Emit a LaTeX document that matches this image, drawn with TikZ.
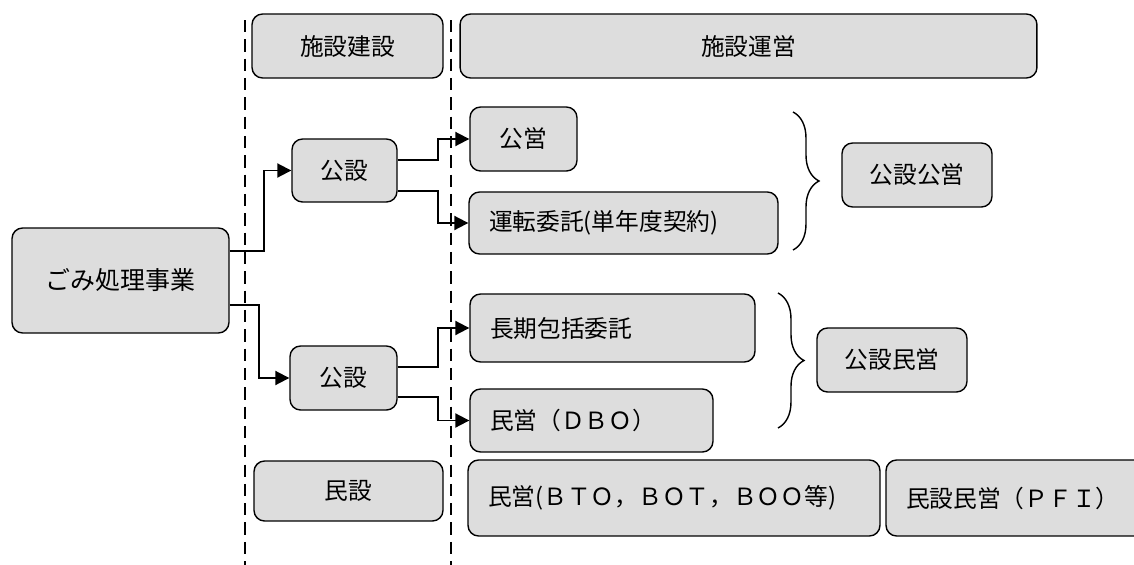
\documentclass[tikz,border=0pt]{standalone}
\usepackage{fontspec}
\setmainfont{Noto Sans CJK JP}
\usetikzlibrary{arrows.meta,decorations.pathreplacing}
\pgfdeclarelayer{nodelayer}
\pgfdeclarelayer{edgelayer}
\pgfsetlayers{edgelayer,nodelayer,main}
\definecolor{boxgrey}{RGB}{221,221,221}
\tikzstyle{grey box}=[fill=boxgrey, draw=black, line width=0.8pt, rounded corners=6pt, shape=rectangle, inner sep=0pt, font=\fontsize{13.5pt}{16pt}\selectfont]
\tikzstyle{grey box left}=[grey box, align=left, inner xsep=0.4cm]
\tikzstyle{none}=[fill=none, draw=none, shape=circle, scale=0]
\tikzstyle{arrow edge}=[draw=black, line width=1.1pt, -{Triangle[length=8pt,width=8pt]}]
\tikzstyle{dashed edge}=[draw=black, line width=0.9pt, dash pattern=on 7pt off 4pt]
\tikzstyle{brace edge}=[draw=black, line width=0.8pt, decorate, decoration={brace, amplitude=0.52cm}]

\begin{document}
\begin{tikzpicture}[x=0.02cm, y=-0.02cm]
	\useasboundingbox (0, 0) rectangle (1134, 565);
	\begin{pgfonlayer}{nodelayer}
		\node [style=grey box, minimum width=4.34cm, minimum height=2.1cm, font=\fontsize{14.2pt}{17pt}\selectfont] (0) at (120.5, 280.5) {ごみ処理事業};
		\node [style=grey box, minimum width=3.82cm, minimum height=1.28cm] (1) at (347.5, 46) {施設建設};
		\node [style=grey box, minimum width=11.54cm, minimum height=1.28cm] (2) at (748.5, 46) {施設運営};
		\node [style=grey box, minimum width=2.1cm, minimum height=1.26cm] (3) at (344.5, 170.5) {公設};
		\node [style=grey box, minimum width=2.14cm, minimum height=1.28cm] (4) at (343.5, 378) {公設};
		\node [style=grey box, minimum width=3.78cm, minimum height=1.2cm] (5) at (348.5, 491) {民設};
		\node [style=grey box, minimum width=2.14cm, minimum height=1.28cm] (6) at (523.5, 139) {公営};
		\node [style=grey box left, text width=5.38cm, minimum height=1.24cm] (7) at (623.5, 223) {運転委託(単年度契約)};
		\node [style=grey box left, text width=4.9cm, minimum height=1.36cm] (8) at (612.5, 328) {長期包括委託};
		\node [style=grey box left, text width=4.06cm, minimum height=1.26cm] (9) at (591.5, 420.5) {民営（ＤＢＯ）};
		\node [style=grey box left, text width=7.44cm, minimum height=1.52cm] (10) at (674, 498) {民営(ＢＴＯ，ＢＯＴ，ＢＯＯ等)};
		\node [style=grey box left, text width=4.88cm, minimum height=1.52cm] (11) at (1028, 498) {民設民営（ＰＦＩ）};
		\node [style=grey box, minimum width=3cm, minimum height=1.28cm] (12) at (917, 175) {公設公営};
		\node [style=grey box, minimum width=3cm, minimum height=1.28cm] (13) at (892, 360) {公設民営};
		\node [style=none] (14) at (245, 20) {};
		\node [style=none] (15) at (245, 565) {};
		\node [style=none] (16) at (451, 20) {};
		\node [style=none] (17) at (451, 565) {};
		\node [style=none] (18) at (793, 112) {};
		\node [style=none] (19) at (793, 250) {};
		\node [style=none] (20) at (778, 293) {};
		\node [style=none] (21) at (778, 428) {};
	\end{pgfonlayer}
	\begin{pgfonlayer}{edgelayer}
		\draw [style=dashed edge] (14.center) to (15.center);
		\draw [style=dashed edge] (16.center) to (17.center);
		\draw [style=arrow edge] ([yshift=0.59cm]0.east) -- ++(34, 0) |- (3);
		\draw [style=arrow edge] ([yshift=-0.49cm]0.east) -- ++(29, 0) |- (4);
		\draw [style=arrow edge] ([yshift=0.21cm]3.east) -- ++(40, 0) |- (6);
		\draw [style=arrow edge] ([yshift=-0.41cm]3.east) -- ++(40, 0) |- (7);
		\draw [style=arrow edge] ([yshift=0.22cm]4.east) -- ++(40, 0) |- (8);
		\draw [style=arrow edge] ([yshift=-0.38cm]4.east) -- ++(40, 0) |- (9);
		\draw [style=brace edge] (18.center) to (19.center);
		\draw [style=brace edge] (20.center) to (21.center);
	\end{pgfonlayer}
\end{tikzpicture}
\end{document}
